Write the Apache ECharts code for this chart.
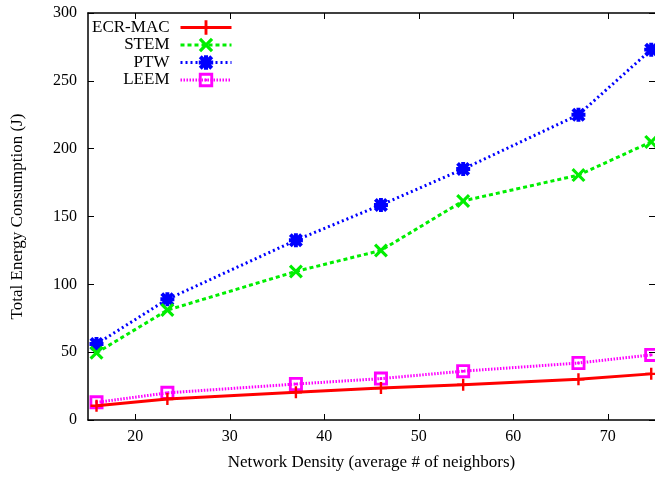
<!DOCTYPE html>
<html>
<head>
<meta charset="utf-8">
<script src="https://cdn.jsdelivr.net/npm/echarts@6/dist/echarts.min.js"></script>
<style>html,body{margin:0;padding:0;background:#fff}#c{width:655px;height:479px}</style>
</head>
<body>
<div id="c"></div>
<script>
const density = [15.9, 23.4, 37.0, 46.0, 54.7, 66.9, 74.6];
const ecrMac = [10.5, 15.5, 20.5, 23.5, 26, 30, 34];
const stem = [49.5, 81, 109.5, 125, 161.5, 180.5, 205];
const ptw = [56, 89, 132.5, 158.5, 185, 225, 273];
const leem = [13, 20, 26.5, 30.5, 36, 42, 48];
const xTicks = [20, 30, 40, 50, 60, 70];
const seriesNames = ['ECR-MAC', 'STEM', 'PTW', 'LEEM'];

const FONT = 'Liberation Serif';
const pair = (ys) => density.map((x, i) => [x, ys[i]]);

const SYM_PLUS = 'path://M4,0H6V4H10V6H6V10H4V6H0V4H4Z';
const SYM_X = 'path://M0,1.6L1.6,0L5,3.4L8.4,0L10,1.6L6.6,5L10,8.4L8.4,10L5,6.6L1.6,10L0,8.4L3.4,5Z';
const SYM_STAR = 'path://M0,2L2,0L5,3L8,0L10,2L7,5L10,8L8,10L5,7L2,10L0,8L3,5Z M3.6,0H6.4V3.6H10V6.4H6.4V10H3.6V6.4H0V3.6H3.6Z';
const SYM_BOX = 'path://M0,0H10V10H0Z M2,2V8H8V2Z M4.1,4.1H5.9V5.9H4.1Z';

const styles = [
  {color: '#ff0000', type: 'solid', sym: SYM_PLUS, size: 12, width: 3},
  {color: '#00ee00', type: [4, 3], sym: SYM_X, size: 14, width: 3},
  {color: '#0000ff', type: [2, 3], sym: SYM_STAR, size: 14, width: 3},
  {color: '#ff00ff', type: [1.5, 1.5], sym: SYM_BOX, size: 14, width: 3}
];
const values = [ecrMac, stem, ptw, leem];

const legendTops = [14, 31.5, 49, 66.5];

const axisCommon = {
  type: 'value', min: 15, max: 75,
  axisLine: {show: true, onZero: false, lineStyle: {color: '#000', width: 1.5}},
  axisTick: {show: true, inside: true, length: 6, customValues: xTicks, lineStyle: {color: '#000', width: 1}},
  splitLine: {show: false}
};

const option = {
  animation: false,
  grid: {left: 88, top: 13, width: 570, bottom: 59, containLabel: false},
  legend: seriesNames.map((n, i) => ({
    data: [{name: n, lineStyle: {color: styles[i].color, width: 3, type: styles[i].type}}],
    orient: 'vertical', align: 'right', right: 417, top: legendTops[i],
    itemWidth: 51, itemHeight: 18, selectedMode: false,
    textStyle: {fontFamily: FONT, fontSize: 17, color: '#000', padding: [0, 6, 0, 0]}
  })),
  xAxis: [
    Object.assign({}, axisCommon, {
      position: 'bottom',
      name: 'Network Density (average # of neighbors)', nameLocation: 'middle', nameGap: 34,
      nameTextStyle: {fontFamily: FONT, fontSize: 17, color: '#000'},
      axisLabel: {customValues: xTicks, fontFamily: FONT, fontSize: 16, color: '#000', margin: 9}
    }),
    Object.assign({}, axisCommon, {
      position: 'top', axisLabel: {show: false}
    })
  ],
  yAxis: [
    {
      type: 'value', min: 0, max: 300, interval: 50, position: 'left',
      name: 'Total Energy Consumption (J)', nameLocation: 'middle', nameGap: 62,
      nameTextStyle: {fontFamily: FONT, fontSize: 17, color: '#000'},
      axisLine: {show: true, lineStyle: {color: '#000', width: 1.5}},
      axisTick: {show: true, inside: true, length: 6, lineStyle: {color: '#000', width: 1}},
      axisLabel: {fontFamily: FONT, fontSize: 16, color: '#000', margin: 11},
      splitLine: {show: false}
    },
    {
      type: 'value', min: 0, max: 300, interval: 50, position: 'right',
      axisLine: {show: false},
      axisTick: {show: true, inside: true, length: 6, lineStyle: {color: '#000', width: 1}},
      axisLabel: {show: false},
      splitLine: {show: false}
    }
  ],
  series: seriesNames.map((n, i) => ({
    name: n, type: 'line', xAxisIndex: 0, yAxisIndex: 0,
    data: pair(values[i]),
    symbol: styles[i].sym, symbolSize: styles[i].size, showAllSymbol: true,
    lineStyle: {color: styles[i].color, width: styles[i].width, type: styles[i].type},
    itemStyle: {color: styles[i].color, borderWidth: 0},
    emphasis: {disabled: true},
    z: 10 - i
  }))
};

const chart = echarts.init(document.getElementById('c'), null, {renderer: 'canvas'});
chart.setOption(option);
</script>
</body>
</html>
